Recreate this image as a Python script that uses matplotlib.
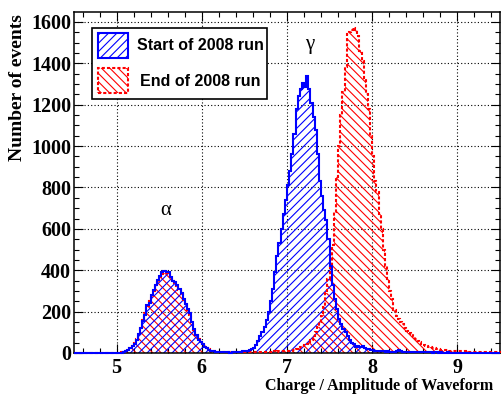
import numpy as np
import matplotlib
matplotlib.use("Agg")
import matplotlib.pyplot as plt
from matplotlib.patches import Rectangle

# ---------------- data ----------------
x_min, x_max, n_bins = 4.5, 9.5, 200
x_ticks = [5, 6, 7, 8, 9]
y_ticks = [0, 200, 400, 600, 800, 1000, 1200, 1400, 1600]
x_label = "Charge / Amplitude of Waveform"
y_label = "Number of events"
legend_labels = ["Start of 2008 run", "End of 2008 run"]

start_counts = [
    0, 0, 0, 0, 0, 0, 0, 0, 0, 0,
    0, 0, 0, 0, 0, 0, 0, 0, 0, 0,
    0, 1, 2, 4, 8, 14, 22, 32, 45, 62,
    90, 120, 155, 185, 230, 240, 280, 305, 330, 355,
    370, 390, 398, 392, 390, 365, 350, 345, 330, 310,
    290, 260, 235, 215, 195, 150, 115, 85, 65, 55,
    45, 30, 22, 15, 10, 8, 6, 5, 4, 5,
    4, 3, 3, 2, 3, 3, 4, 5, 6, 8,
    10, 11, 14, 18, 25, 40, 60, 80, 100, 125,
    160, 200, 250, 310, 390, 470, 530, 600, 670, 740,
    810, 880, 960, 1060, 1180, 1240, 1275, 1303, 1285, 1340,
    1275, 1210, 1140, 1080, 960, 830, 760, 690, 645, 550,
    420, 330, 260, 215, 165, 140, 115, 100, 80, 65,
    50, 45, 30, 35, 28, 32, 22, 20, 18, 15,
    14, 12, 10, 9, 10, 8, 7, 8, 6, 5,
    6, 12, 14, 8, 5, 5, 4, 5, 4, 4,
    4, 3, 4, 3, 3, 4, 3, 3, 2, 3,
    3, 2, 3, 2, 2, 3, 2, 2, 2, 2,
    2, 2, 1, 2, 2, 1, 2, 1, 1, 2,
    1, 1, 2, 1, 1, 1, 1, 1, 1, 1,
]

end_counts = [
    0, 0, 0, 0, 0, 0, 0, 0, 0, 0,
    0, 0, 0, 0, 0, 0, 0, 0, 0, 0,
    0, 1, 3, 5, 9, 15, 24, 35, 50, 68,
    92, 125, 160, 195, 225, 250, 275, 300, 325, 345,
    365, 380, 385, 388, 380, 360, 348, 338, 325, 305,
    285, 258, 232, 210, 185, 148, 112, 85, 68, 55,
    45, 35, 25, 18, 12, 9, 7, 6, 5, 5,
    4, 4, 4, 3, 3, 4, 4, 4, 5, 5,
    5, 5, 5, 6, 5, 6, 6, 6, 7, 7,
    6, 7, 7, 7, 8, 7, 8, 8, 8, 8,
    8, 9, 11, 14, 18, 22, 27, 32, 38, 45,
    55, 65, 80, 100, 125, 150, 180, 220, 290, 360,
    420, 520, 680, 850, 1000, 1150, 1260, 1380, 1540, 1550,
    1560, 1570, 1560, 1530, 1460, 1410, 1330, 1250, 1180, 1050,
    950, 830, 780, 670, 600, 500, 420, 360, 300, 260,
    210, 180, 165, 150, 140, 120, 105, 95, 90, 75,
    68, 60, 55, 45, 40, 35, 30, 28, 25, 22,
    20, 18, 16, 15, 14, 14, 12, 12, 11, 10,
    10, 9, 9, 8, 8, 7, 7, 6, 6, 5,
    5, 5, 4, 4, 4, 3, 3, 3, 3, 3,
]

peak_labels = [("\u03b3", 7.27, 1493), ("\u03b1", 5.58, 691)]

# ---------------- style ----------------
W, H = 504, 394
plt.rcParams["hatch.linewidth"] = 0.8
SERIF = ["Liberation Serif", "DejaVu Serif"]
SANS = ["Liberation Sans", "DejaVu Sans"]

fig = plt.figure(figsize=(W / 100, H / 100), dpi=100)
fig.patch.set_facecolor("white")


def fx(px):
    return px / W


def fy(py):
    return 1 - py / H


ax = fig.add_axes([fx(74), fy(353), (500 - 74) / W, (353 - 12) / H])

edges = np.linspace(x_min, x_max, n_bins + 1)
start = np.array(start_counts, dtype=float)
end = np.array(end_counts, dtype=float)

blue = "#0000ff"
red = "#ff0000"

# hatched fills
ax.stairs(end, edges, fill=True, facecolor="none", edgecolor=red,
          linewidth=0, hatch="\\\\\\\\", zorder=2)
ax.stairs(start, edges, fill=True, facecolor="none", edgecolor=blue,
          linewidth=0, hatch="////", zorder=2)
# outlines
ax.stairs(end, edges, color=red, linewidth=1.5, linestyle=(0, (1.5, 1.0)),
          zorder=3, clip_on=False)
ax.stairs(start, edges, color=blue, linewidth=1.5, zorder=3.1, clip_on=False)

ax.set_xlim(x_min, x_max)
ax.set_ylim(0, 1648)
ax.set_xticks(x_ticks)
ax.set_yticks(y_ticks)
ax.set_xticks(np.arange(4.6, 9.5, 0.2), minor=True)
ax.set_yticks(np.arange(0, 1648, 50), minor=True)

ax.grid(True, which="major", color="black", linestyle=(0, (1, 2)), linewidth=0.8)
ax.set_axisbelow(True)

ax.tick_params(which="both", direction="in", top=True, right=True, width=0.8)
ax.tick_params(which="major", length=6.5)
ax.tick_params(which="minor", length=3.5)
ax.tick_params(axis="y", pad=2)
ax.tick_params(axis="x", pad=3.5)
for lab in ax.get_xticklabels() + ax.get_yticklabels():
    lab.set_family(SERIF)
    lab.set_weight("bold")
    lab.set_fontsize(14.5)
for s in ax.spines.values():
    s.set_linewidth(1.1)

fig.text(fx(265), fy(386), x_label, ha="left", va="center",
         family=SERIF, weight="bold", fontsize=11.5)
fig.text(fx(18), fy(14), y_label, ha="center", va="top", rotation=90,
         family=SERIF, weight="bold", fontsize=14)

for sym, px_, py_ in peak_labels:
    ax.text(px_, py_, sym, ha="center", va="center", family=SERIF, fontsize=15)

# legend box
fig.patches.append(Rectangle((fx(92), fy(99)), (267 - 92) / W, (99 - 28) / H,
                             transform=fig.transFigure, facecolor="white",
                             edgecolor="black", linewidth=1.2, zorder=5))
fig.patches.append(Rectangle((fx(98), fy(58)), 30 / W, 25 / H,
                             transform=fig.transFigure, facecolor="none",
                             edgecolor=blue, linewidth=1.5, hatch="////", zorder=6))
fig.patches.append(Rectangle((fx(98), fy(93)), 30 / W, 25 / H,
                             transform=fig.transFigure, facecolor="none",
                             edgecolor=red, linewidth=1.5, linestyle=(0, (1.5, 1.0)),
                             hatch="\\\\\\\\", zorder=6))
fig.text(fx(200), fy(46), legend_labels[0], ha="center", va="center",
         family=SANS, weight="bold", fontsize=11.5, zorder=7)
fig.text(fx(200), fy(81), legend_labels[1], ha="center", va="center",
         family=SANS, weight="bold", fontsize=11.5, zorder=7)

fig.savefig("out.png", dpi=100)
